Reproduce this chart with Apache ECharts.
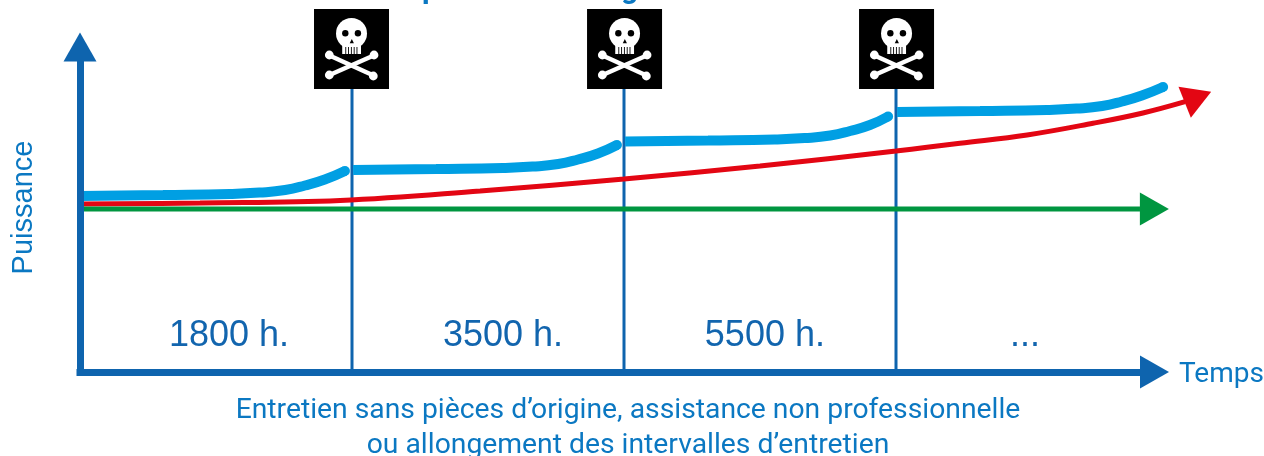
<!DOCTYPE html>
<html><head><meta charset="utf-8">
<style>html,body{margin:0;padding:0;background:#fff}#c{width:1264px;height:456px}</style>
<script src="https://cdn.jsdelivr.net/npm/echarts@6/dist/echarts.min.js"></script>
</head><body><div id="c"></div>
<script>
const serviceX = [1, 2, 3];
const serviceTop = 283;
const flagX = [0.9982, 2.002, 3.002];
const flagY = 323;
const intervalLabels = ['1800 h.', '3500 h.', '5500 h.', '...'];
const intervalLabelX = [0.548, 1.555, 2.518, 3.474];
const intervalLabelY = 36;
const blue1X = [0, 0.305, 0.55, 0.66, 0.754, 0.827, 0.9, 0.974];
const blue1Y = [176, 177, 178, 179.4, 182, 186.5, 192.5, 201];
const blue2X = [1.004, 1.309, 1.554, 1.664, 1.758, 1.831, 1.904, 1.974];
const blue2Y = [202, 203, 204, 205.4, 208, 212.5, 218.5, 227];
const blue3X = [2.004, 2.309, 2.554, 2.664, 2.758, 2.831, 2.904, 2.971];
const blue3Y = [230.5, 231.5, 232.5, 233.9, 236.5, 241, 247, 255.5];
const blue4X = [3.004, 3.309, 3.554, 3.664, 3.758, 3.831, 3.904, 3.982];
const blue4Y = [260, 261, 262, 263.4, 266, 270.5, 276.5, 285];
const redX = [0, 0.441, 0.956, 1.471, 2, 2.5, 3, 3.114, 3.235, 3.482, 3.724, 3.908, 4.063];
const redY = [168, 169, 171.5, 181, 193, 206, 221, 224.7, 228.7, 237, 248.7, 259, 270.3];
const greenX = [0, 3.897];
const greenY = [163, 163];
const redHead = [4.11, 275];
const greenHead = [3.95, 163];

const AXIS = '#0e64ae', BLUE = '#009fe3', RED = '#e30613', GREEN = '#009640', TXT = '#0b78c2';
const zip = (a, b) => a.map((v, i) => [v, b[i]]);
const blues = [[blue1X, blue1Y], [blue2X, blue2Y], [blue3X, blue3Y], [blue4X, blue4Y]];
const onWide = { xAxisIndex: 1, yAxisIndex: 1 };

function flag(params, api) {
  const p = api.coord([api.value(0), api.value(1)]);
  const W = { fill: '#fff' }, K = { fill: '#000' };
  const teeth = [-6.2, -3.4, -0.6, 2.2, 5].map(x => ({ type: 'rect', shape: { x: x, y: -2, width: 0.9, height: 7 }, style: K }));
  const bone = (x1, y1, x2, y2) => ({ type: 'line', shape: { x1, y1, x2, y2 }, style: { stroke: '#fff', lineWidth: 4.4 } });
  const knob = (cx, cy) => ({ type: 'circle', shape: { cx, cy, r: 4.4 }, style: W });
  return {
    type: 'group', x: p[0], y: p[1],
    children: [
      { type: 'rect', shape: { x: -37.5, y: -40, width: 75, height: 80 }, style: K },
      { type: 'circle', shape: { cx: 0, cy: -15.5, r: 15.5 }, style: W },
      { type: 'rect', shape: { x: -9.3, y: -6, width: 18.8, height: 11 }, style: W },
      ...teeth,
      { type: 'circle', shape: { cx: -6.2, cy: -15.7, r: 3.2 }, style: K },
      { type: 'circle', shape: { cx: 6.4, cy: -15.7, r: 3.2 }, style: K },
      { type: 'polygon', shape: { points: [[0.3, -10], [-1.8, -5.8], [2.4, -5.8]] }, style: K },
      bone(-22, 6.5, 22, 26.5), bone(22.2, 6.5, -22, 26),
      knob(-22.2, 6), knob(22.5, 6), knob(-22.2, 26), knob(21.8, 27)
    ]
  };
}

const series = [];
serviceX.forEach(x => series.push({
  type: 'line', ...onWide, data: [[x, 0], [x, serviceTop]], symbol: 'none', z: 1, silent: true,
  lineStyle: { color: AXIS, width: 3 }
}));
blues.forEach(b => series.push({
  type: 'line', ...onWide, data: zip(b[0], b[1]), symbol: 'none', smooth: 0.5, z: 3,
  lineStyle: { color: BLUE, width: 10, cap: 'butt' }
}));
series.push({
  type: 'scatter', ...onWide, z: 3, symbol: 'circle', symbolSize: 10, itemStyle: { color: BLUE, opacity: 1 },
  data: blues.map(b => [b[0][b[0].length - 1], b[1][b[1].length - 1]])
});
series.push({
  type: 'line', ...onWide, data: zip(redX, redY), symbol: 'none', smooth: 0.4, z: 4,
  lineStyle: { color: RED, width: 5 }
});
series.push({
  type: 'scatter', ...onWide, z: 4, symbol: 'triangle', symbolSize: [33.6, 28.5], symbolRotate: -68.4,
  itemStyle: { color: RED, opacity: 1 }, data: [redHead]
});
series.push({
  type: 'line', ...onWide, data: zip(greenX, greenY), symbol: 'none', z: 5,
  lineStyle: { color: GREEN, width: 5 }
});
series.push({
  type: 'scatter', ...onWide, z: 5, symbol: 'triangle', symbolSize: [33, 29], symbolRotate: -90,
  itemStyle: { color: GREEN, opacity: 1 }, data: [greenHead]
});
series.push({
  type: 'custom', ...onWide, renderItem: flag, clip: false, z: 6, silent: true,
  encode: { x: 0, y: 1 }, data: flagX.map(x => [x, flagY])
});
series.push({
  type: 'scatter', ...onWide, symbolSize: 0, z: 6, silent: true, itemStyle: { opacity: 1 },
  data: intervalLabels.map((t, i) => ({ name: t, value: [intervalLabelX[i], intervalLabelY] })),
  label: { show: true, position: 'inside', formatter: '{b}', color: '#1265ae', opacity: 1, fontSize: 36, fontFamily: 'Liberation Sans' }
});

const chart = echarts.init(document.getElementById('c'), null, { renderer: 'canvas' });
chart.setOption({
  animation: false,
  backgroundColor: '#fff',
  tooltip: { show: false },
  grid: [
    { left: 80, top: 47, width: 1074.5, height: 325, outerBoundsMode: 'none' },
    { left: 80, top: 47, width: 1156, height: 325, outerBoundsMode: 'none' }
  ],
  xAxis: [{
    type: 'value', gridIndex: 0, min: 0, max: 3.95, z: 8,
    splitLine: { show: false }, axisTick: { show: false }, axisLabel: { show: false },
    axisLine: { show: true, onZero: false, symbol: ['none', 'triangle'], symbolSize: [33, 29],
      lineStyle: { color: AXIS, width: 7, cap: 'square' } }
  }, {
    type: 'value', gridIndex: 1, min: 0, max: 4.25, show: false, splitLine: { show: false }
  }],
  yAxis: [{
    type: 'value', gridIndex: 0, min: 0, max: 325, z: 8,
    splitLine: { show: false }, axisTick: { show: false }, axisLabel: { show: false },
    axisLine: { show: true, onZero: false, symbol: ['none', 'triangle'], symbolSize: [33, 29],
      lineStyle: { color: AXIS, width: 7, cap: 'square' } },
    name: 'Puissance', nameLocation: 'middle', nameRotate: 90, nameGap: 42,
    nameTextStyle: { color: TXT, fontSize: 29, fontFamily: 'Liberation Sans', padding: [0, 0, 0, 4] }
  }, {
    type: 'value', gridIndex: 1, min: 0, max: 325, show: false, splitLine: { show: false }
  }],
  graphic: [
    { type: 'text', x: 1179, y: 375, style: { text: 'Temps', fill: TXT, font: '28px Roboto', textVerticalAlign: 'middle' } },
    { type: 'text', x: 628, y: 411, style: { text: 'Entretien sans pièces d’origine, assistance non professionnelle', fill: TXT, font: '28.3px Roboto', textAlign: 'center', textVerticalAlign: 'middle' } },
    { type: 'text', x: 628, y: 446, style: { text: 'ou allongement des intervalles d’entretien', fill: TXT, font: '28.3px Roboto', textAlign: 'center', textVerticalAlign: 'middle' } },
    { type: 'text', x: 422, y: 5, style: { text: 'p', fill: TXT, font: 'bold 30px Roboto', textVerticalAlign: 'bottom' } },
    { type: 'text', x: 621, y: 5, style: { text: 'g', fill: TXT, font: 'bold 30px Roboto', textVerticalAlign: 'bottom' } }
  ],
  series: series
});
</script></body></html>
